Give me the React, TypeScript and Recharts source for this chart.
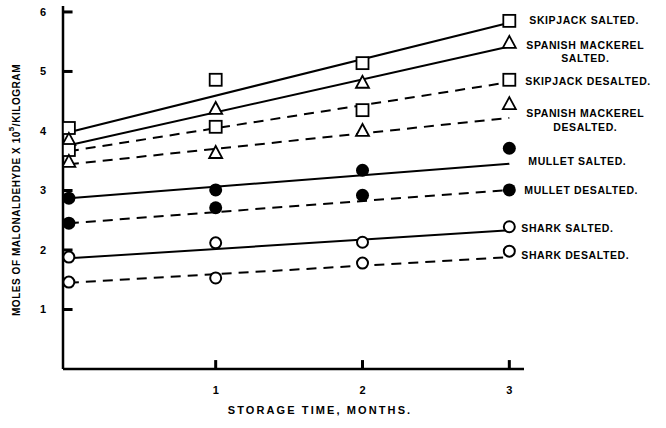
import React from 'react';
import {
  ComposedChart,
  Line,
  Scatter,
  XAxis,
  YAxis,
  ReferenceDot,
} from 'recharts';

const months = [0, 1, 2, 3];
const fitMonths = [0, 3];

const skipjackSalted = [4.05, 4.86, 5.14, 5.85];
const mackerelSalted = [3.85, 4.37, 4.81, 5.48];
const skipjackDesalted = [3.68, 4.07, 4.35, 4.86];
const mackerelDesalted = [3.48, 3.63, 4.0, 4.45];
const mulletSalted = [2.87, 3.01, 3.34, 3.71];
const mulletDesalted = [2.45, 2.71, 2.92, 3.01];
const sharkSalted = [1.88, 2.12, 2.13, 2.39];
const sharkDesalted = [1.46, 1.53, 1.78, 1.98];

// fitted straight lines, values at 0 and 3 months
const skipjackSaltedFit = [3.98, 5.82];
const mackerelSaltedFit = [3.76, 5.42];
const skipjackDesaltedFit = [3.66, 4.82];
const mackerelDesaltedFit = [3.44, 4.22];
const mulletSaltedFit = [2.87, 3.45];
const mulletDesaltedFit = [2.45, 3.01];
const sharkSaltedFit = [1.86, 2.33];
const sharkDesaltedFit = [1.45, 1.88];

const yTicks = [1, 2, 3, 4, 5, 6];
const xTicks = [1, 2, 3];

const X_MIN = -0.04;
const X_MAX = 3.1;
const Y_MAX = 6.1;

const FONT = '"Liberation Sans", Arial, sans-serif';

type Kind = 'square' | 'triangle' | 'dot' | 'ring';

interface LabelLine {
  text: string;
  dx: number;
  dy: number;
  anchor?: 'start' | 'middle';
}

interface Series {
  name: string;
  kind: Kind;
  dashed: boolean;
  values: number[];
  fit: number[];
  label: LabelLine[];
}

const series: Series[] = [
  { name: 'skipjackSalted', kind: 'square', dashed: false, values: skipjackSalted, fit: skipjackSaltedFit,
    label: [{ text: 'SKIPJACK SALTED.', dx: 20, dy: -1 }] },
  { name: 'mackerelSalted', kind: 'triangle', dashed: false, values: mackerelSalted, fit: mackerelSaltedFit,
    label: [
      { text: 'SPANISH MACKEREL', dx: 17, dy: 2 },
      { text: 'SALTED.', dx: 76, dy: 15, anchor: 'middle' },
    ] },
  { name: 'skipjackDesalted', kind: 'square', dashed: true, values: skipjackDesalted, fit: skipjackDesaltedFit,
    label: [{ text: 'SKIPJACK DESALTED.', dx: 16, dy: 1 }] },
  { name: 'mackerelDesalted', kind: 'triangle', dashed: true, values: mackerelDesalted, fit: mackerelDesaltedFit,
    label: [
      { text: 'SPANISH MACKEREL', dx: 17, dy: 9 },
      { text: 'DESALTED.', dx: 76, dy: 23, anchor: 'middle' },
    ] },
  { name: 'mulletSalted', kind: 'dot', dashed: false, values: mulletSalted, fit: mulletSaltedFit,
    label: [{ text: 'MULLET SALTED.', dx: 19, dy: 13 }] },
  { name: 'mulletDesalted', kind: 'dot', dashed: true, values: mulletDesalted, fit: mulletDesaltedFit,
    label: [{ text: 'MULLET DESALTED.', dx: 15, dy: 0 }] },
  { name: 'sharkSalted', kind: 'ring', dashed: false, values: sharkSalted, fit: sharkSaltedFit,
    label: [{ text: 'SHARK SALTED.', dx: 12, dy: 1 }] },
  { name: 'sharkDesalted', kind: 'ring', dashed: true, values: sharkDesalted, fit: sharkDesaltedFit,
    label: [{ text: 'SHARK DESALTED.', dx: 12, dy: 4 }] },
];

function Marker({ cx, cy, kind }: { cx?: number; cy?: number; kind: Kind }) {
  if (cx == null || cy == null) return null;
  if (kind === 'square') {
    return <rect x={cx - 6} y={cy - 6} width={12} height={12} fill="#fff" stroke="#000" strokeWidth={1.8} />;
  }
  if (kind === 'triangle') {
    const pts = `${cx},${cy - 7} ${cx - 6.5},${cy + 5} ${cx + 6.5},${cy + 5}`;
    return <polygon points={pts} fill="#fff" stroke="#000" strokeWidth={1.8} />;
  }
  if (kind === 'dot') {
    return <circle cx={cx} cy={cy} r={6.5} fill="#000" />;
  }
  return <circle cx={cx} cy={cy} r={5.5} fill="#fff" stroke="#000" strokeWidth={2} />;
}

function YTick({ x, y, payload }: any) {
  return (
    <text x={x - 17} y={y + 4} textAnchor="end" fontFamily={FONT} fontWeight="bold" fontSize={11} fill="#000">
      {payload.value}
    </text>
  );
}

function XTick({ x, y, payload }: any) {
  return (
    <text x={x} y={y + 25} textAnchor="middle" fontFamily={FONT} fontWeight="bold" fontSize={11} fill="#000">
      {payload.value}
    </text>
  );
}

function SideLabel({ viewBox, lines }: { viewBox?: { x: number; y: number }; lines: LabelLine[] }) {
  if (!viewBox) return null;
  return (
    <g>
      {lines.map((l) => (
        <text
          key={l.text}
          x={viewBox.x + l.dx}
          y={viewBox.y + l.dy + 4}
          textAnchor={l.anchor ?? 'start'}
          fontFamily={FONT}
          fontWeight="bold"
          fontSize={10.5}
          letterSpacing={0.6}
          fill="#000"
        >
          {l.text}
        </text>
      ))}
    </g>
  );
}

export default function App() {
  return (
    <div style={{ position: 'absolute', left: 0, top: 0, width: 666, height: 428, background: '#fff' }}>
      <ComposedChart width={666} height={428} margin={{ top: 6, right: 142, bottom: 0, left: 0 }}>
        <XAxis
          type="number"
          dataKey="x"
          domain={[X_MIN, X_MAX]}
          ticks={xTicks}
          allowDataOverflow
          height={59}
          axisLine={{ stroke: '#000', strokeWidth: 2.5 }}
          tickLine={false}
          tickSize={0}
          tickMargin={0}
          tick={<XTick />}
        />
        <YAxis
          type="number"
          domain={[0, Y_MAX]}
          ticks={yTicks}
          allowDataOverflow
          width={63}
          axisLine={{ stroke: '#000', strokeWidth: 2.5 }}
          tickLine={false}
          tickSize={0}
          tickMargin={0}
          tick={<YTick />}
        />
        {/* inward tick marks, drawn as short two-point lines */}
        {yTicks.map((v) => (
          <Line
            key={'yt' + v}
            data={[{ x: X_MIN, y: v }, { x: X_MIN + 0.065, y: v }]}
            dataKey="y"
            stroke="#000"
            strokeWidth={3}
            dot={false}
            activeDot={false}
            isAnimationActive={false}
          />
        ))}
        {xTicks.map((v) => (
          <Line
            key={'xt' + v}
            data={[{ x: v, y: 0 }, { x: v, y: 0.15 }]}
            dataKey="y"
            stroke="#000"
            strokeWidth={3}
            dot={false}
            activeDot={false}
            isAnimationActive={false}
          />
        ))}
        {series.map((s) => (
          <Line
            key={s.name + '-fit'}
            data={fitMonths.map((m, i) => ({ x: m, y: s.fit[i] }))}
            dataKey="y"
            type="linear"
            stroke="#000"
            strokeWidth={2}
            strokeDasharray={s.dashed ? '10 7' : undefined}
            dot={false}
            activeDot={false}
            isAnimationActive={false}
          />
        ))}
        {series.map((s) => (
          <Scatter
            key={s.name + '-pts'}
            data={months.map((m, i) => ({ x: m, y: s.values[i] }))}
            dataKey="y"
            shape={(p: any) => <Marker cx={p.cx} cy={p.cy} kind={s.kind} />}
            isAnimationActive={false}
          />
        ))}
        {series.map((s) => (
          <ReferenceDot
            key={s.name + '-label'}
            x={months[3]}
            y={s.values[3]}
            r={0}
            fill="none"
            stroke="none"
            label={<SideLabel lines={s.label} />}
          />
        ))}
        <text
          x={17}
          y={190}
          transform="rotate(-90 17 190)"
          textAnchor="middle"
          dominantBaseline="middle"
          fontFamily={FONT}
          fontWeight="bold"
          fontSize={10}
          letterSpacing={0.55}
          fill="#000"
        >
          MOLES OF MALONALDEHYDE X 10<tspan dy={-5} fontSize={8}>5</tspan><tspan dy={5}>/KILOGRAM</tspan>
        </text>
        <text
          x={320}
          y={414}
          textAnchor="middle"
          fontFamily={FONT}
          fontWeight="bold"
          fontSize={11}
          letterSpacing={2.1}
          fill="#000"
        >
          STORAGE TIME, MONTHS.
        </text>
      </ComposedChart>
    </div>
  );
}
